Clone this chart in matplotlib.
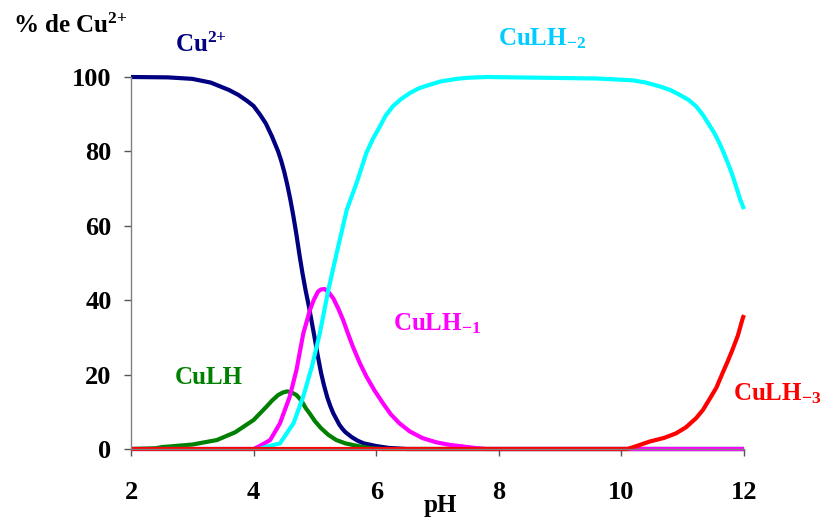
import matplotlib
matplotlib.use("Agg")
import matplotlib.pyplot as plt

plt.rcParams['font.family'] = ['Liberation Serif', 'DejaVu Serif']
plt.rcParams['font.weight'] = 'bold'
plt.rcParams['mathtext.fontset'] = 'custom'
plt.rcParams['mathtext.rm'] = 'Liberation Serif:bold'
plt.rcParams['mathtext.it'] = 'Liberation Serif:bold'
plt.rcParams['mathtext.bf'] = 'Liberation Serif:bold'

# ---- data ----
ph_cu = [2.0, 2.6, 3.0, 3.3, 3.6, 3.75, 3.9, 4.0, 4.1, 4.2, 4.3, 4.4, 4.45, 4.5, 4.55, 4.6,
         4.65, 4.7, 4.75, 4.8, 4.85, 4.9, 4.95, 5.0, 5.05, 5.1, 5.15, 5.2, 5.25, 5.3, 5.4,
         5.45, 5.5, 5.6, 5.7, 5.8, 6.0, 6.2, 6.5, 12.0]
pct_cu = [100, 99.9, 99.5, 98.5, 96.5, 95.2, 93.5, 92.2, 90, 87.5, 84, 80, 77.5, 74.5, 71, 67,
          62.5, 57.5, 52, 47, 42.5, 38.5, 34, 29.5, 24.8, 20.5, 17, 14, 11.6, 9.6, 6.5,
          5.4, 4.5, 3.2, 2.2, 1.5, 0.8, 0.3, 0, 0]

ph_culh = [2.0, 2.4, 2.5, 3.0, 3.4, 3.7, 4.0, 4.2, 4.3, 4.4, 4.48, 4.55, 4.62, 4.7, 4.78,
           4.85, 4.93, 5.0, 5.1, 5.22, 5.35, 5.5, 5.7, 5.9, 6.1, 12.0]
pct_culh = [0, 0.2, 0.5, 1.2, 2.4, 4.5, 7.8, 11.2, 13, 14.5, 15.2, 15.5, 15.2, 14.5, 13,
            11, 9.2, 7.5, 5.6, 3.8, 2.4, 1.5, 0.8, 0.2, 0, 0]

ph_culh1 = [2.0, 4.0, 4.1, 4.27, 4.43, 4.59, 4.70, 4.81, 4.92, 4.98, 5.05, 5.10, 5.16,
            5.23, 5.30, 5.38, 5.46, 5.54, 5.62, 5.73, 5.84, 5.97, 6.11, 6.24, 6.38, 6.55,
            6.76, 6.98, 7.2, 7.6, 7.8, 12.0]
pct_culh1 = [0, 0, 0.8, 2.4, 6.9, 14.1, 21.3, 31, 37.4, 40, 42.3, 42.9, 43.0,
             42, 40.5, 37.8, 34.7, 31, 27.5, 23.2, 19.5, 15.8, 12.3, 9.3, 6.9, 4.7,
             2.9, 1.8, 1.1, 0.3, 0, 0]

ph_culh2 = [2.0, 4.1, 4.21, 4.43, 4.65, 4.81, 4.95, 5.08, 5.22, 5.36, 5.52, 5.68, 5.84,
            5.95, 6.06, 6.15, 6.27, 6.4, 6.55, 6.7, 6.87, 7.05, 7.31, 7.5, 7.8, 9.6,
            10.19, 10.4, 10.62, 10.8, 10.95, 11.1, 11.22, 11.33, 11.43, 11.52, 11.60,
            11.68, 11.76, 11.82, 11.87, 11.94, 12.0]
pct_culh2 = [0, 0, 0.6, 1.5, 6.9, 14.1, 22.1, 31.1, 42.8, 53, 64.3, 71.5, 79.6,
             83.5, 86.7, 89.5, 92.1, 94, 95.7, 97, 97.9, 98.8, 99.5, 99.8, 100, 99.6,
             99.1, 98.5, 97.5, 96.5, 95.2, 93.8, 92.1, 89.8, 87.2, 84.8, 82.2,
             79.2, 75.9, 73.2, 70.6, 67, 64.5]

ph_culh3 = [2.0, 10.1, 10.25, 10.46, 10.7, 10.89, 11.05, 11.22, 11.33, 11.43, 11.55,
            11.65, 11.73, 11.81, 11.9, 11.98, 12.0]
pct_culh3 = [0, 0, 0.8, 2.0, 3.0, 4.2, 5.8, 8.3, 10.5, 13.2, 16.5,
             20.4, 23.4, 26.6, 30.5, 35.2, 36]

x_ticks = [2, 4, 6, 8, 10, 12]
y_ticks = [0, 20, 40, 60, 80, 100]

# ---- figure ----
W, H = 823, 519
fig = plt.figure(figsize=(W / 100, H / 100), dpi=100)

def fx(px):
    return px / W

def fy(py):
    return 1 - py / H

ax = fig.add_axes([fx(131), fy(449), fx(744) - fx(131), fy(77) - fy(449)])

lw = 3.0
style = dict(lw=lw, clip_on=False, solid_joinstyle='round', solid_capstyle='butt')
ax.plot(ph_cu, pct_cu, color='#000080', **style)
ax.plot(ph_culh, pct_culh, color='#008000', **style)
ax.plot(ph_culh1, pct_culh1, color='#FF00FF', **style)
ax.plot(ph_culh2, pct_culh2, color='#00FFFF', **style)
ax.plot(ph_culh3, pct_culh3, color='#FF0000', **style)

ax.set_xlim(2, 12)
ax.set_ylim(0, 100)
ax.set_xticks(x_ticks)
ax.set_yticks(y_ticks)
ax.set_xticklabels([str(v) for v in x_ticks])
ax.set_yticklabels([str(v) for v in y_ticks])

for s in ['top', 'right']:
    ax.spines[s].set_visible(False)
for s in ['left', 'bottom']:
    ax.spines[s].set_color('#808080')
    ax.spines[s].set_linewidth(1.0)

ax.tick_params(axis='both', direction='out', length=5, width=1.0, color='#555555',
               labelsize=19, labelcolor='black')
ax.tick_params(axis='x', pad=18)
ax.tick_params(axis='y', pad=9)
for lab in ax.get_xticklabels() + ax.get_yticklabels():
    lab.set_fontweight('bold')

fs = 18
fig.text(fx(13), fy(33), '% de Cu$^{2{+}}$', fontsize=fs, fontweight='bold', color='black',
         ha='left', va='baseline')
fig.text(fx(440), fy(512), 'pH', fontsize=fs, fontweight='bold', color='black',
         ha='center', va='baseline')

fig.text(fx(175), fy(52), 'Cu$^{2{+}}$', fontsize=fs, fontweight='bold', color='#000080',
         ha='left', va='baseline')
fig.text(fx(498), fy(45), 'CuLH$_{-2}$', fontsize=fs, fontweight='bold', color='#00CCFF',
         ha='left', va='baseline')
fig.text(fx(393), fy(330), 'CuLH$_{-1}$', fontsize=fs, fontweight='bold', color='#FF00FF',
         ha='left', va='baseline')
fig.text(fx(175), fy(384), 'CuLH', fontsize=fs, fontweight='bold', color='#008000',
         ha='left', va='baseline')
fig.text(fx(733), fy(400), 'CuLH$_{-3}$', fontsize=fs, fontweight='bold', color='#FF0000',
         ha='left', va='baseline')

fig.savefig('out.png', dpi=100)
